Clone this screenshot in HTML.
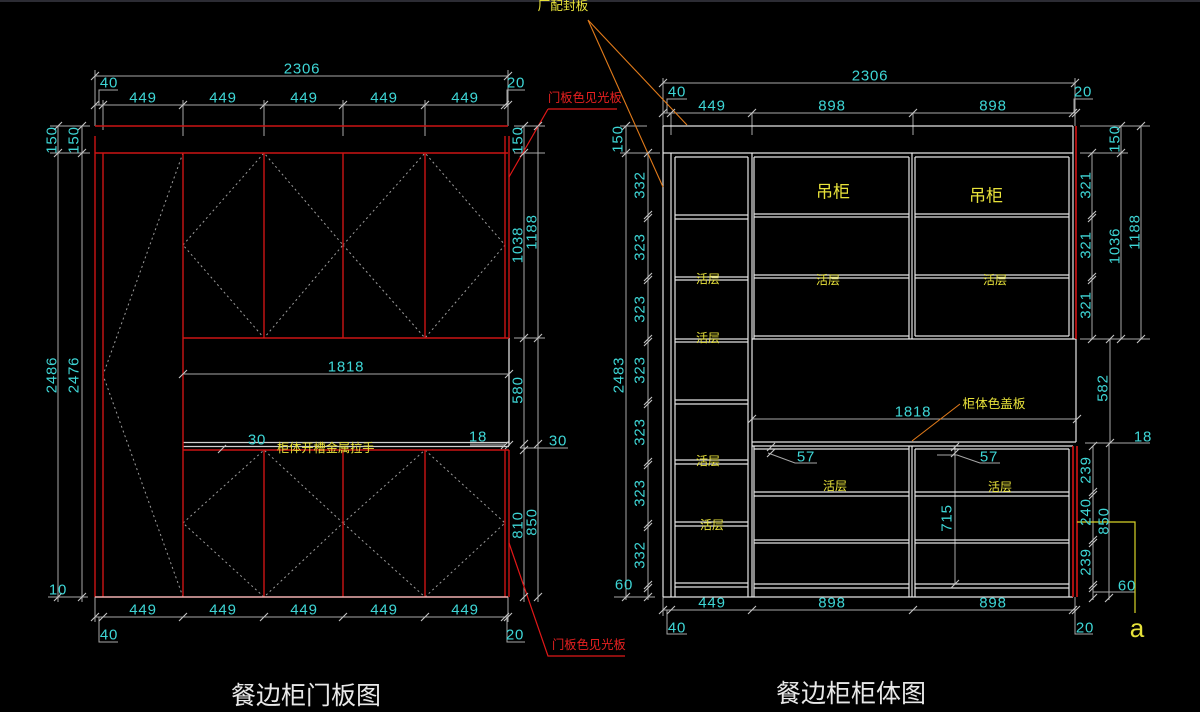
<!DOCTYPE html>
<html><head><meta charset="utf-8">
<style>
html,body{margin:0;padding:0;background:#000;}
svg{display:block}
.d{font-family:"Liberation Sans",sans-serif;font-size:15px;fill:#3ed6d6;letter-spacing:0.8px}
.c{font-family:"Liberation Sans","Noto Sans CJK SC",sans-serif}
</style></head><body>
<svg width="1200" height="712" viewBox="0 0 1200 712" xmlns="http://www.w3.org/2000/svg">
<rect width="1200" height="712" fill="#000"/>
<rect width="1200" height="2" fill="#2c2c34"/>

<!-- ============ LEFT DRAWING ============ -->
<g stroke="#9c9c9c" stroke-width="1" stroke-dasharray="2,3" fill="none">
<path d="M183 153L103 375L183 597"/>
<path d="M183 245L264 153L343 245L264 338Z"/>
<path d="M343 245L425 153L505 245L425 338Z"/>
<path d="M183 523L264 450L343 523L264 597Z"/>
<path d="M343 523L425 450L505 523L425 597Z"/>
</g>

<g stroke="#a8a8a8" stroke-width="1" fill="none">
<path d="M95 76H508 M95 70V126 M508 70V126 M95 105H508 M183 100V136 M264 100V136 M343 100V136 M425 100V136 M103 100V130"/>
<path d="M99 105V90H118 M507 105V90H525"/>
<path d="M50 126H90 M50 153H90 M58 126V602 M82 126V602 M48 597H88"/>
<path d="M514 126H545 M514 153H545 M524 126V602 M538 126V602 M514 338H545 M520 448H568"/>
<path d="M183 357V374 M183 374H509"/>
<path d="M95 617H508 M95 597V622 M508 597V622 M99 617V642H118 M507 617V642H525"/>
<path d="M222 450H265"/>
</g>
<path d="M470 445H505" stroke="#6a6a6a" stroke-width="3"/>

<g stroke="#cfcfcf" stroke-width="1.2">
<path d="M183 442.5H509 M183 446.5H509"/>
<path d="M509 338V446" stroke="#eeeeee"/>
</g>

<g stroke="#cc1414" stroke-width="1.4" fill="none">
<path d="M95 126H508 M95 153H508"/>
<path d="M95 136V597 M103 153V597 M183 153V597"/>
<path d="M264 153V338 M343 153V338 M425 153V338 M505 136V338 M509 136V338"/>
<path d="M183 338H509 M183 450H509"/>
<path d="M264 450V597 M343 450V597 M425 450V597 M505 450V597 M509 450V597"/>
</g>
<path d="M95 597H508" stroke="#f0b0b0" stroke-width="1.5"/>

<g stroke="#e01818" stroke-width="1.2" fill="none">
<path d="M548 109H617 M548 109L509 177"/>
<path d="M509 543L548 656H625"/>
</g>

<path stroke="#c4c4c4" stroke-width="1.1" fill="none" d="M91 80l8-8 M504 80l8-8 M91 109l8-8 M99 109l8-8 M179 109l8-8 M260 109l8-8 M339 109l8-8 M421 109l8-8 M501 109l8-8 M504 109l8-8 M54 130l8-8 M78 130l8-8 M54 157l8-8 M78 157l8-8 M54 601l8-8 M78 601l8-8 M520 130l8-8 M534 130l8-8 M520 157l8-8 M520 342l8-8 M534 342l8-8 M520 448l8-8 M534 448l8-8 M520 454l8-8 M520 601l8-8 M534 601l8-8 M179 378l8-8 M505 378l8-8 M91 621l8-8 M99 621l8-8 M179 621l8-8 M260 621l8-8 M339 621l8-8 M421 621l8-8 M501 621l8-8 M504 621l8-8 M218 453l8-8 M501 449l8-8 M505 449l8-8"/>

<g class="d" text-anchor="middle" dominant-baseline="central">
<text x="302" y="69">2306</text>
<text x="143" y="98">449</text><text x="223" y="98">449</text><text x="304" y="98">449</text><text x="384" y="98">449</text><text x="465" y="98">449</text>
<text x="109" y="83">40</text><text x="516" y="83">20</text>
<text transform="translate(52,140) rotate(-90)">150</text>
<text transform="translate(74,140) rotate(-90)">150</text>
<text transform="translate(52,375) rotate(-90)">2486</text>
<text transform="translate(74,375) rotate(-90)">2476</text>
<text x="58" y="590">10</text>
<text x="143" y="610">449</text><text x="223" y="610">449</text><text x="304" y="610">449</text><text x="384" y="610">449</text><text x="465" y="610">449</text>
<text x="109" y="635">40</text><text x="515" y="635">20</text>
<text x="346" y="367">1818</text>
<text transform="translate(518,140) rotate(-90)">150</text>
<text transform="translate(518,245) rotate(-90)">1038</text>
<text transform="translate(532,232) rotate(-90)">1188</text>
<text transform="translate(518,390) rotate(-90)">580</text>
<text x="558" y="441">30</text>
<text x="478" y="437">18</text>
<text x="257" y="440">30</text>
<text transform="translate(518,525) rotate(-90)">810</text>
<text transform="translate(532,522) rotate(-90)">850</text>
</g>
<g class="c" dominant-baseline="central">
<text x="277" y="448" font-size="12.2" fill="#e8e23a">柜体开槽金属拉手</text>
<text x="548" y="98" font-size="12.3" fill="#e82020">门板色见光板</text>
<text x="552" y="645" font-size="12.3" fill="#e82020">门板色见光板</text>
<text x="306" y="696" font-size="25" fill="#e8e8e8" text-anchor="middle">餐边柜门板图</text>
</g>

<!-- ============ RIGHT DRAWING ============ -->
<g stroke="#a8a8a8" stroke-width="1" fill="none">
<path d="M663 83H1075 M663 78V126 M1075 78V126 M663 113H1075 M671 113V135 M752 113V135 M913 113V135"/>
<path d="M667 113V99H687 M1074 113V99H1093"/>
<path d="M620 126H647 M620 153H660 M626 126V600 M648 153V600 M614 597H655"/>
<path d="M1080 126H1150 M1080 153H1128 M1080 339H1150 M1121 126V339 M1141 126V339 M1092 153V339 M1110 339V443"/>
<path d="M1085 443H1150 M1093 446V600 M1109 443V600 M1093 592H1135"/>
<path d="M752 419H1077 M752 410V428"/>
<path d="M663 610H1075 M663 597V616 M1075 597V616 M667 610V634H687 M1075 610V634H1093"/>
<path d="M768 453L795 463H817 M937 455H957L980 463H1000"/>
<path d="M955 447V584 M937 584H955 M955 446H975"/>
</g>

<g stroke="#e4e4e4" stroke-width="1.2" fill="none">
<path d="M663 126H1073 M663 126V597 M663 153H1073 M663 597H1073"/>
<path d="M671 153V597 M675 157V597 M748 157V597 M752 153V597 M754 157V339 M754 446V597"/>
<path d="M675 157H748 M675 215H748 M675 219H748 M675 277H748 M675 280H748 M675 339H748 M675 342H748 M675 400H748 M675 404H748 M675 460H748 M675 464H748 M675 522H748 M675 526H748 M675 583H748 M675 587H748"/>
<path d="M754 157H909 M915 157H1069 M754 214H909 M754 217H909 M915 214H1069 M915 217H1069 M754 275H909 M754 278H909 M915 275H1069 M915 278H1069 M754 336H909 M915 336H1069"/>
<path d="M752 339H1076 M909 157V339 M912 153V339 M915 157V336 M1069 157V336 M1073 126V339"/>
<path d="M1076 339V442 M752 442H1076 M752 446H1073"/>
<path d="M754 449H909 M915 449H1069 M909 446V597 M912 446V597 M915 449V597 M1069 449V597"/>
<path d="M754 492H909 M754 496H909 M915 492H1069 M915 496H1069 M754 540H909 M754 543H909 M915 540H1069 M915 543H1069 M754 584H909 M754 588H909 M915 584H1069 M915 588H1069"/>
</g>
<g stroke="#d41414" stroke-width="1.6" fill="none">
<path d="M1076 126V339 M1073 446V597 M1077 446V597"/>
</g>

<g stroke="#e07a1a" stroke-width="1.1" fill="none">
<path d="M588 20L687 125 M588 20L663 187"/>
<path d="M912 441L960 404"/>
</g>
<path d="M1077 522H1135V613" stroke="#d8d428" stroke-width="1.2" fill="none"/>

<path stroke="#c4c4c4" stroke-width="1.1" fill="none" d="M659 87l8-8 M1071 87l8-8 M659 117l8-8 M667 117l8-8 M748 117l8-8 M909 117l8-8 M1069 117l8-8 M1072 117l8-8 M622 130l8-8 M622 157l8-8 M644 157l8-8 M644 219l8-8 M644 222l8-8 M644 281l8-8 M644 284l8-8 M644 343l8-8 M644 346l8-8 M644 405l8-8 M644 408l8-8 M644 466l8-8 M644 469l8-8 M644 528l8-8 M644 531l8-8 M644 589l8-8 M644 592l8-8 M644 601l8-8 M622 601l8-8 M1117 130l8-8 M1137 130l8-8 M1117 157l8-8 M1088 157l8-8 M1088 219l8-8 M1088 222l8-8 M1088 281l8-8 M1088 284l8-8 M1088 343l8-8 M1117 343l8-8 M1137 343l8-8 M1106 343l8-8 M1106 447l8-8 M1089 450l8-8 M1089 496l8-8 M1089 499l8-8 M1089 544l8-8 M1089 547l8-8 M1089 589l8-8 M1089 592l8-8 M1089 602l8-8 M1105 602l8-8 M748 423l8-8 M1073 423l8-8 M767 451l8-8 M767 457l8-8 M951 451l8-8 M951 457l8-8 M951 588l8-8 M659 614l8-8 M667 614l8-8 M748 614l8-8 M909 614l8-8 M1069 614l8-8 M1072 614l8-8"/>

<g class="d" text-anchor="middle" dominant-baseline="central">
<text x="870" y="76">2306</text>
<text x="677" y="92">40</text>
<text x="1083" y="92">20</text>
<text x="712" y="106">449</text><text x="832" y="106">898</text><text x="993" y="106">898</text>
<text transform="translate(618,139) rotate(-90)">150</text>
<text transform="translate(640,185) rotate(-90)">332</text>
<text transform="translate(640,247) rotate(-90)">323</text>
<text transform="translate(640,309) rotate(-90)">323</text>
<text transform="translate(640,370) rotate(-90)">323</text>
<text transform="translate(640,432) rotate(-90)">323</text>
<text transform="translate(640,493) rotate(-90)">323</text>
<text transform="translate(640,555) rotate(-90)">332</text>
<text transform="translate(619,375) rotate(-90)">2483</text>
<text x="624" y="585">60</text>
<text x="712" y="603">449</text><text x="832" y="603">898</text><text x="993" y="603">898</text>
<text x="677" y="628">40</text>
<text x="1085" y="628">20</text>
<text x="913" y="412">1818</text>
<text x="806" y="457">57</text>
<text x="989" y="457">57</text>
<text transform="translate(947,518) rotate(-90)">715</text>
<text transform="translate(1115,139) rotate(-90)">150</text>
<text transform="translate(1086,185) rotate(-90)">321</text>
<text transform="translate(1086,245) rotate(-90)">321</text>
<text transform="translate(1086,305) rotate(-90)">321</text>
<text transform="translate(1115,246) rotate(-90)">1036</text>
<text transform="translate(1135,232) rotate(-90)">1188</text>
<text transform="translate(1103,388) rotate(-90)">582</text>
<text x="1143" y="437">18</text>
<text transform="translate(1086,470) rotate(-90)">239</text>
<text transform="translate(1086,512) rotate(-90)">240</text>
<text transform="translate(1086,562) rotate(-90)">239</text>
<text transform="translate(1104,521) rotate(-90)">850</text>
<text x="1127" y="586">60</text>
</g>
<text x="1137" y="628" font-family="Liberation Sans,sans-serif" font-size="26" fill="#e6e23a" text-anchor="middle" dominant-baseline="central">a</text>

<g class="c" dominant-baseline="central" fill="#e8e23a" text-anchor="middle">
<text x="833" y="192" font-size="17">吊柜</text>
<text x="986" y="196" font-size="17">吊柜</text>
<text x="708" y="279" font-size="12">活层</text>
<text x="708" y="338" font-size="12">活层</text>
<text x="708" y="461" font-size="12">活层</text>
<text x="712" y="525" font-size="12">活层</text>
<text x="828" y="280" font-size="12">活层</text>
<text x="995" y="280" font-size="12">活层</text>
<text x="835" y="486" font-size="12">活层</text>
<text x="1000" y="487" font-size="12">活层</text>
<text x="994" y="404" font-size="12.6">柜体色盖板</text>
<text x="563" y="6" font-size="12.7">厂配封板</text>
</g>
<text x="851" y="694" class="c" font-size="25" fill="#e8e8e8" text-anchor="middle" dominant-baseline="central">餐边柜柜体图</text>
</svg>
</body></html>
